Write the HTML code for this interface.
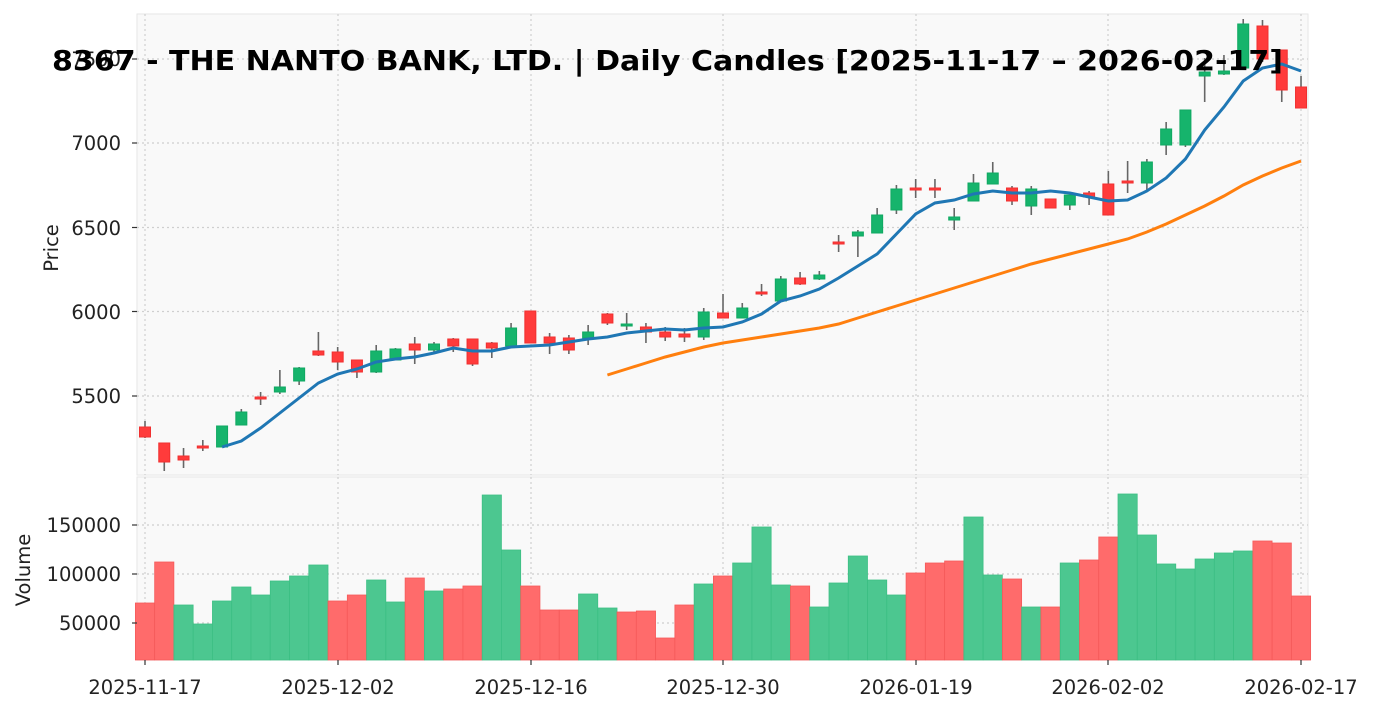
<!DOCTYPE html>
<html><head><meta charset="utf-8"><style>
body{margin:0;background:#fff}
svg{display:block;font-family:"DejaVu Sans","Liberation Sans",sans-serif}
</style></head><body>
<svg id="s" width="1376" height="711" viewBox="0 0 1376 711">
<rect x="137" y="14" width="1171" height="461" fill="#f9f9f9" stroke="#e6e6e6"/>
<rect x="137" y="477" width="1171" height="183" fill="#f9f9f9" stroke="#e6e6e6"/>
<g id="grid" stroke="#cfcfcf" stroke-dasharray="2,3" stroke-width="1.2"></g>
<g id="vol"></g>
<g id="cand"></g>
<polyline id="ma20" fill="none" stroke="#ff7f0e" stroke-width="3"/>
<polyline id="ma5" fill="none" stroke="#1f77b4" stroke-width="3"/>
<g font-size="19.5" fill="#222" text-anchor="end">
<text x="121" y="66">7500</text>
<text x="121" y="150">7000</text>
<text x="121" y="235">6500</text>
<text x="121" y="319">6000</text>
<text x="121" y="403">5500</text>
<text x="121" y="532">150000</text>
<text x="121" y="581">100000</text>
<text x="121" y="630">50000</text>
</g>
<g font-size="19.5" fill="#222" text-anchor="middle">
<text x="145" y="694">2025-11-17</text>
<text x="338" y="694">2025-12-02</text>
<text x="531" y="694">2025-12-16</text>
<text x="723" y="694">2025-12-30</text>
<text x="916" y="694">2026-01-19</text>
<text x="1108" y="694">2026-02-02</text>
<text x="1301" y="694">2026-02-17</text>
<text transform="translate(58,248) rotate(-90)">Price</text>
<text transform="translate(30,570) rotate(-90)">Volume</text>
</g>
<g stroke="#333" stroke-width="1.2" id="ticks"></g>
<text x="52" y="70" font-size="28" font-weight="bold" textLength="1231" lengthAdjust="spacingAndGlyphs" fill="#000">8367 - THE NANTO BANK, LTD. | Daily Candles [2025-11-17 – 2026-02-17]</text>
</svg>
<script>
const X=i=>145+i*19.267;
const C=[['r',427,437,421,438],['r',443,462,443,471],['r',456,460,448,468],['r',446,448,440,451],['g',426,447,426,447],['g',412,425,409,425],['r',397,398,392,405],['g',387,392,370,394],['g',368,381,367,385],['r',351,355,332,356],
['r',352,362,347,370],['r',360,372,360,378],['g',351,372,345,373],['g',349,360,348,360],['r',344,350,337,364],['g',344,350,342,352],['r',339,346,338,352],['r',339,364,339,366],['r',343,348,342,358],['g',328,346,323,346],
['r',311,343,311,343],['r',337,343,333,354],['r',338,350,335,354],['g',332,338,325,345],['r',314,323,313,325],['g',324,326,313,330],['r',327,332,323,343],['r',332,337,327,341],['r',334,337,328,342],['g',312,337,308,340],
['r',313,318,294,318],['g',308,318,303,318],['r',292,294,284,296],['g',279,301,276,301],['r',278,284,272,285],['g',275,279,271,280],['r',242,244,235,252],['g',232,236,230,257],['g',215,233,208,233],['g',189,210,185,214],
['r',188,189,179,198],['r',188,189,179,198],['g',217,220,208,230],['g',183,201,174,201],['g',173,184,162,184],['r',188,201,186,205],['g',189,206,186,215],['r',199,208,199,208],['g',195,205,195,210],['r',193,197,191,205],
['r',184,215,171,215],['r',181,183,161,193],['g',162,183,159,190],['g',129,145,122,155],['g',110,145,110,147],['g',72,76,58,102],['g',71,74,55,75],['g',24,68,19,68],['r',26,59,20,62],['r',50,90,50,102],['r',87,108,76,108]];
const V=[['r',603],['r',562],['g',605],['g',624],['g',601],['g',587],['g',595],['g',581],['g',576],['g',565],['r',601],['r',595],['g',580],['g',602],['r',578],['g',591],['r',589],['r',586],['g',495],['g',550],['r',586],['r',610],['r',610],['g',594],['g',608],['r',612],['r',611],['r',638],['r',605],['g',584],['r',576],['g',563],['g',527],['g',585],['r',586],['g',607],['g',583],['g',556],['g',580],['g',595],['r',573],['r',563],['r',561],['g',517],['g',575],['r',579],['g',607],['r',607],['g',563],['r',560],['r',537],['g',494],['g',535],['g',564],['g',569],['g',559],['g',553],['g',551],['r',541],['r',543],['r',596]];
const M5=[447,441,428,413,398,383,374,369,362,359,357,353,348,351,351,347,346,345,342,339,337,333,331,329,330,328,327,322,314,301,296,289,278,266,254,234,214,203,200,194,191,193,193,191,193,197,201,200,191,178,159,130,107,81,68,64,71];
const M20=[375,369,363,357,352,347,343,340,337,334,331,328,324,318,312,306,300,294,288,282,276,270,264,259,254,249,244,239,232,224,215,206,196,185,176,168,161];
const ns='http://www.w3.org/2000/svg';
function el(p,t,a){const e=document.createElementNS(ns,t);for(const k in a)e.setAttribute(k,a[k]);document.getElementById(p).appendChild(e);}
[145,338,531,723,916,1108,1301].forEach(x=>{el('grid','line',{x1:x,x2:x,y1:14,y2:475});el('grid','line',{x1:x,x2:x,y1:477,y2:660});el('ticks','line',{x1:x,x2:x,y1:660,y2:665});});
[59,143,227.5,311.5,396].forEach(y=>{el('grid','line',{x1:137,x2:1308,y1:y,y2:y});el('ticks','line',{x1:132,x2:137,y1:y,y2:y});});
[525,574,623].forEach(y=>{el('grid','line',{x1:137,x2:1308,y1:y,y2:y});el('ticks','line',{x1:132,x2:137,y1:y,y2:y});});
V.forEach((v,i)=>{const g=v[0]=='g';el('vol','rect',{x:X(i)-9.6,y:v[1],width:19.2,height:660-v[1],fill:g?'#4cc790':'#ff6b6b',stroke:g?'#3cbf84':'#f55a5a','stroke-width':0.8});});
C.forEach((c,i)=>{const g=c[0]=='g',x=X(i);el('cand','line',{x1:x,x2:x,y1:c[3],y2:c[4],stroke:'#666','stroke-width':1.6});
el('cand','rect',{x:x-5.5,y:c[1],width:11,height:Math.max(c[2]-c[1],2),fill:g?'#16b46c':'#ff3b3b',stroke:g?'#10a862':'#f03030','stroke-width':1});});
document.getElementById('ma5').setAttribute('points',M5.map((y,i)=>X(i+4)+','+y).join(' '));
document.getElementById('ma20').setAttribute('points',M20.map((y,i)=>X(i+24)+','+y).join(' '));
</script>
</body></html>
